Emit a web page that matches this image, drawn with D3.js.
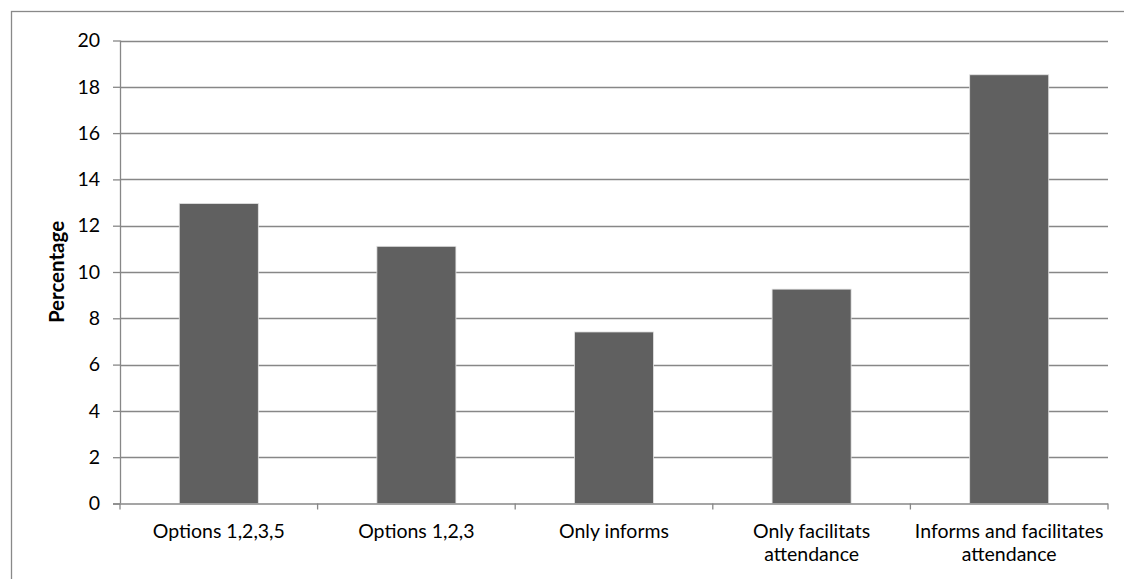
<!DOCTYPE html>
<html>
<head>
<meta charset="utf-8">
<script src="https://cdn.jsdelivr.net/npm/d3@7"></script>
<style>
  html, body { margin: 0; padding: 0; background: #fff; }
  svg { display: block; }
  text { font-family: Lato, "Open Sans", sans-serif; fill: #000; }
</style>
</head>
<body>
<svg id="chart" width="1124" height="579"></svg>
<script>
// Share of respondents per option
const categories = [
  ["Options 1,2,3,5"],
  ["Options 1,2,3"],
  ["Only informs"],
  ["Only facilitats", "attendance"],
  ["Informs and facilitates", "attendance"]
];
const values = [12.96, 11.11, 7.41, 9.26, 18.52];
const yTicks = [0, 2, 4, 6, 8, 10, 12, 14, 16, 18, 20];
const yTitle = "Percentage";

const W = 1124, H = 579;
const plot = { left: 120, right: 1108, top: 40.5, bottom: 503.5 };
const svg = d3.select("#chart");

// outer chart frame (clipped by the page edges on right and bottom)
svg.append("rect")
  .attr("x", 11.5).attr("y", 11.5)
  .attr("width", W + 20).attr("height", H + 20)
  .attr("fill", "none").attr("stroke", "#898989").attr("stroke-width", 1.3);

const keys = categories.map((c, i) => i);
const x = d3.scaleBand().domain(keys).range([plot.left, plot.right]).paddingInner(0.6).paddingOuter(0.3);
const xCat = d3.scaleBand().domain(keys).range([plot.left, plot.right]);
const y = d3.scaleLinear().domain([0, 20]).range([plot.bottom, plot.top]);

// horizontal gridlines
svg.append("g").selectAll("line").data(yTicks.filter(t => t > 0)).join("line")
  .attr("x1", plot.left).attr("x2", plot.right)
  .attr("y1", d => Math.round(y(d)) + 0.5).attr("y2", d => Math.round(y(d)) + 0.5)
  .attr("stroke", "#878787").attr("stroke-width", 1.3);

// bars
svg.append("g").selectAll("rect").data(values).join("rect")
  .attr("x", (d, i) => x(i))
  .attr("y", d => y(d))
  .attr("width", x.bandwidth())
  .attr("height", d => plot.bottom - y(d))
  .attr("fill", "#606060")
  .attr("stroke", "#e4e4e4").attr("stroke-width", 0.8);

// y axis
const yAxis = d3.axisLeft(y).tickValues(yTicks).tickSize(7).tickPadding(13).tickFormat(d3.format("d"));
const gy = svg.append("g").attr("transform", `translate(${plot.left},0)`).call(yAxis);
gy.select(".domain").attr("d", `M0.5,${plot.top}V${plot.bottom}`).attr("stroke", "#878787").attr("stroke-width", 1.3);
gy.selectAll(".tick line").attr("stroke", "#878787").attr("stroke-width", 1.3);
gy.selectAll(".tick text").style("font-size", "19.5px").style("font-family", "Lato, sans-serif").attr("fill", "#000");

// x axis baseline and category separators
const gx = svg.append("g");
gx.append("line")
  .attr("x1", plot.left - 7).attr("x2", plot.right)
  .attr("y1", plot.bottom + 0.5).attr("y2", plot.bottom + 0.5)
  .attr("stroke", "#878787").attr("stroke-width", 1.3);
const bounds = keys.map(i => xCat(i)).concat([plot.right]);
gx.selectAll("line.sep").data(bounds).join("line").attr("class", "sep")
  .attr("x1", d => d).attr("x2", d => d)
  .attr("y1", plot.bottom).attr("y2", plot.bottom + 6)
  .attr("stroke", "#878787").attr("stroke-width", 1.3);

// category labels
const lbl = gx.selectAll("text.cat").data(categories).join("text").attr("class", "cat")
  .attr("text-anchor", "middle")
  .attr("x", (d, i) => xCat(i) + xCat.bandwidth() / 2)
  .attr("y", 538)
  .style("font-size", "19.5px");
lbl.selectAll("tspan").data(d => d).join("tspan")
  .attr("x", function () { return d3.select(this.parentNode).attr("x"); })
  .attr("dy", (d, j) => j === 0 ? 0 : 22.5)
  .text(d => d);

// y axis title
svg.append("text")
  .attr("transform", `translate(64,${(plot.top + plot.bottom) / 2}) rotate(-90)`)
  .attr("text-anchor", "middle")
  .style("font-size", "20.5px").style("font-weight", "bold")
  .text(yTitle);
</script>
</body>
</html>
